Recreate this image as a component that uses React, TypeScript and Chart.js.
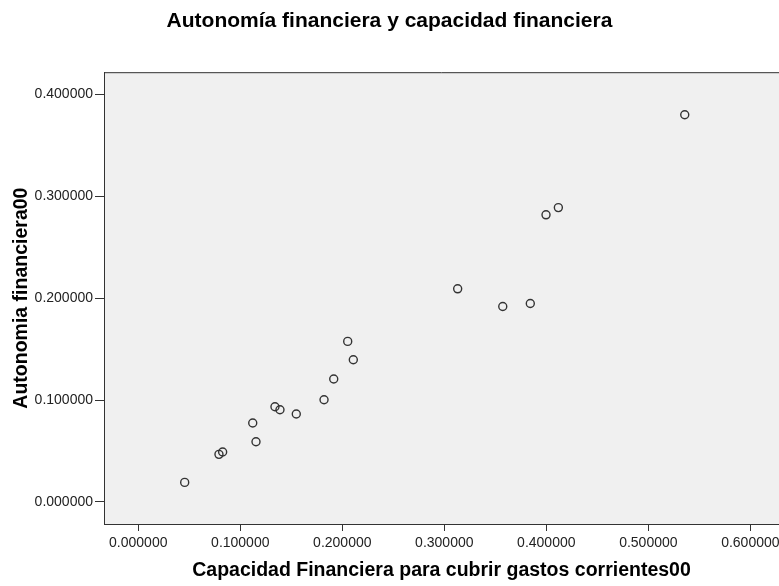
import React, { useEffect, useRef } from "react";
import { Chart, registerables } from "chart.js";

Chart.register(...registerables);

const chartTitle = "Autonomía financiera y capacidad financiera";
const xAxisTitle = "Capacidad Financiera para cubrir gastos corrientes00";
const yAxisTitle = "Autonomia financiera00";

// Capacidad financiera (x) and autonomía financiera (y)
const capacidad = [
  0.5357, 0.4118, 0.3997, 0.3131, 0.3573, 0.3843, 0.2053, 0.2108, 0.1916,
  0.1821, 0.134, 0.1389, 0.1549, 0.1122, 0.1154, 0.0791, 0.0827, 0.0455,
];
const autonomia = [
  0.3799, 0.2888, 0.2817, 0.2091, 0.1918, 0.1947, 0.1575, 0.1395, 0.1206,
  0.1003, 0.0934, 0.0905, 0.0863, 0.0775, 0.0591, 0.0467, 0.049, 0.0192,
];

const xTicks = [0, 0.1, 0.2, 0.3, 0.4, 0.5, 0.6];
const yTicks = [0, 0.1, 0.2, 0.3, 0.4];

const X_MIN = -0.0336;
const X_MAX = 0.6281;
const Y_MIN = -0.0216;
const Y_MAX = 0.4216;

const FONT = "'Liberation Sans', Arial, sans-serif";
const AXIS_COLOR = "#333333";

const plotFrame = {
  id: "plotFrame",
  beforeDraw(chart: any) {
    const { ctx, chartArea } = chart;
    ctx.save();
    ctx.fillStyle = "#f0f0f0";
    ctx.fillRect(
      chartArea.left,
      chartArea.top,
      chartArea.right - chartArea.left,
      chartArea.bottom - chartArea.top
    );
    ctx.restore();
  },
  afterDraw(chart: any) {
    const { ctx, chartArea } = chart;
    ctx.save();
    ctx.strokeStyle = AXIS_COLOR;
    ctx.lineWidth = 1;
    ctx.beginPath();
    ctx.moveTo(chartArea.left, chartArea.top + 0.5);
    ctx.lineTo(chartArea.right, chartArea.top + 0.5);
    ctx.stroke();
    ctx.restore();
  },
};

export default function App() {
  const ref = useRef<HTMLCanvasElement | null>(null);

  useEffect(() => {
    if (!ref.current) return;
    const points = capacidad.map((x, i) => ({ x, y: autonomia[i] }));
    const chart = new Chart(ref.current, {
      type: "scatter",
      data: {
        datasets: [
          {
            data: points,
            pointStyle: "circle",
            pointRadius: 4,
            pointBorderWidth: 1.4,
            borderColor: "#333333",
            backgroundColor: "rgba(0,0,0,0)",
            pointHoverRadius: 4,
            clip: false,
          },
        ],
      },
      options: {
        responsive: false,
        animation: false,
        layout: { padding: 0, autoPadding: false },
        plugins: {
          legend: { display: false },
          tooltip: { enabled: false },
          title: {
            display: true,
            text: chartTitle,
            color: "#000000",
            font: { family: FONT, size: 21, weight: "bold" },
            padding: { top: 9, bottom: 38 },
          },
        },
        scales: {
          x: {
            type: "linear",
            min: X_MIN,
            max: X_MAX,
            afterBuildTicks: (scale: any) => {
              scale.ticks = xTicks.map((v) => ({ value: v }));
            },
            afterFit: (scale: any) => {
              scale.height = 62;
              scale.paddingLeft = 0;
              scale.paddingRight = 0;
            },
            grid: {
              display: true,
              drawOnChartArea: false,
              drawTicks: true,
              tickLength: 7,
              color: AXIS_COLOR,
            },
            border: { display: true, color: AXIS_COLOR, width: 1 },
            ticks: {
              color: "#222222",
              font: { family: FONT, size: 14 },
              padding: 4,
              maxRotation: 0,
              autoSkip: false,
              callback: (v: any) => Number(v).toFixed(6),
            },
            title: {
              display: true,
              text: xAxisTitle,
              color: "#000000",
              font: { family: FONT, size: 19.5, weight: "bold" },
              padding: { top: 0, bottom: 4 },
            },
          },
          y: {
            type: "linear",
            min: Y_MIN,
            max: Y_MAX,
            afterBuildTicks: (scale: any) => {
              scale.ticks = yTicks.map((v) => ({ value: v }));
            },
            afterFit: (scale: any) => {
              scale.width = 104;
              scale.paddingTop = 0;
              scale.paddingBottom = 0;
            },
            grid: {
              display: true,
              drawOnChartArea: false,
              drawTicks: true,
              tickLength: 9,
              color: AXIS_COLOR,
            },
            border: { display: true, color: AXIS_COLOR, width: 1 },
            ticks: {
              color: "#222222",
              font: { family: FONT, size: 14 },
              padding: 2,
              autoSkip: false,
              callback: (v: any) => Number(v).toFixed(6),
            },
            title: {
              display: true,
              text: yAxisTitle,
              color: "#000000",
              font: { family: FONT, size: 19.5, weight: "bold" },
              padding: { top: 10, bottom: 0 },
            },
          },
        },
      },
      plugins: [plotFrame],
    });
    return () => chart.destroy();
  }, []);

  return (
    <div style={{ position: "absolute", left: 0, top: 0, width: 779, height: 586, background: "#ffffff" }}>
      <canvas ref={ref} width={779} height={586} style={{ display: "block" }} />
    </div>
  );
}
